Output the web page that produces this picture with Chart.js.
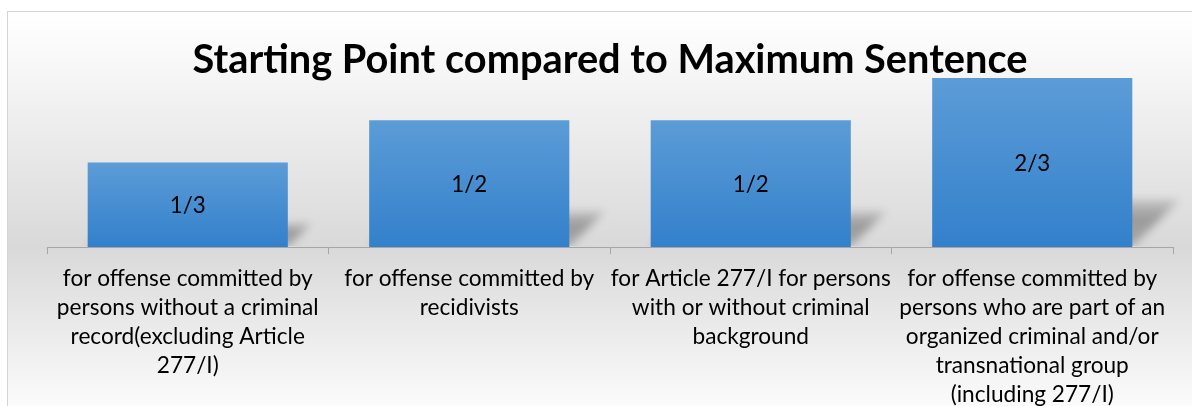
<!DOCTYPE html>
<html><head><meta charset="utf-8">
<script src="https://cdn.jsdelivr.net/npm/chart.js@4"></script>
<style>html,body{margin:0;padding:0;background:#fff;overflow:hidden}#wrap{width:1192px;height:406px;position:relative}</style>
</head><body><div id="wrap"><canvas id="c" width="1192" height="406"></canvas></div>
<script>
const chartTitle = "Starting Point compared to Maximum Sentence";
const categories = [
  ["for offense committed by", "persons without a criminal", "record(excluding Article", "277/I)"],
  ["for offense committed by", "recidivists"],
  ["for Article 277/I for persons", "with or without criminal", "background"],
  ["for offense committed by", "persons who are part of an", "organized criminal and/or", "transnational group", "(including 277/I)"]
];
const startingPointValues = [0.3333, 0.5, 0.5, 0.6667];
const valueLabels = ["1/3", "1/2", "1/2", "2/3"];

function fitSize(text, family, weight, target) {
  const c = document.createElement('canvas').getContext('2d');
  c.font = weight + ' 100px ' + family;
  return 100 * target / c.measureText(text).width;
}
const FAMILY = 'Lato';
const titleSize = fitSize(chartTitle, FAMILY, 'bold', 835);
const tickSize = fitSize("for offense committed by", FAMILY, 'normal', 250);
const valueSize = fitSize("1/3", FAMILY, 'normal', 36);

function barGradient(context) {
  const chart = context.chart;
  const ys = chart.scales && chart.scales.y;
  if (!chart.chartArea || !ys) return '#4a8fd2';
  const v = context.raw;
  const top = ys.getPixelForValue(v);
  const base = ys.getPixelForValue(0);
  const g = chart.ctx.createLinearGradient(0, top, 0, base);
  g.addColorStop(0, '#5c9cd7');
  g.addColorStop(1, '#3380cb');
  return g;
}

const bgPlugin = {
  id: 'bg',
  beforeDraw(chart) {
    const ctx = chart.ctx;
    ctx.save();
    ctx.fillStyle = '#ffffff';
    ctx.fillRect(0, 0, chart.width, chart.height);
    const g = ctx.createLinearGradient(0, 11, 0, 406);
    g.addColorStop(0, '#ffffff');
    g.addColorStop(0.08, '#fbfbfb');
    g.addColorStop(0.597, '#d9d9d9');
    g.addColorStop(1, '#fbfbfb');
    ctx.fillStyle = g;
    ctx.fillRect(7, 11, chart.width, chart.height);
    ctx.strokeStyle = '#d4d4d4';
    ctx.lineWidth = 1;
    ctx.strokeRect(7.5, 11.5, chart.width + 10, chart.height + 10);
    ctx.restore();
  }
};

const shadowPlugin = {
  id: 'barShadow',
  beforeDatasetsDraw(chart) {
    const ctx = chart.ctx;
    const meta = chart.getDatasetMeta(0);
    ctx.save();
    ctx.beginPath();
    ctx.rect(chart.chartArea.left, chart.chartArea.top - 20, chart.chartArea.width + 30, chart.chartArea.bottom - chart.chartArea.top + 19);
    ctx.clip();
    ctx.filter = 'blur(4px)';
    meta.data.forEach(el => {
      const p = el.getProps(['x', 'y', 'base', 'width'], true);
      const left = p.x - p.width / 2, right = p.x + p.width / 2;
      const h = p.base - p.y;
      const k = 0.28 * h;
      const g = ctx.createLinearGradient(0, p.base, 0, p.base - k);
      g.addColorStop(0, 'rgba(0,0,0,0.22)');
      g.addColorStop(0.6, 'rgba(0,0,0,0.30)');
      g.addColorStop(1, 'rgba(0,0,0,0.12)');
      ctx.fillStyle = g;
      ctx.beginPath();
      ctx.moveTo(left, p.base);
      ctx.lineTo(right, p.base);
      ctx.lineTo(right + k, p.base - k);
      ctx.lineTo(left + k, p.base - k);
      ctx.closePath();
      ctx.fill();
    });
    ctx.restore();
  }
};

const valueLabelPlugin = {
  id: 'valueLabels',
  afterDatasetsDraw(chart) {
    const ctx = chart.ctx;
    const meta = chart.getDatasetMeta(0);
    ctx.save();
    ctx.fillStyle = '#000000';
    ctx.font = 'normal ' + valueSize + 'px ' + FAMILY;
    ctx.textAlign = 'center';
    ctx.textBaseline = 'middle';
    meta.data.forEach((el, i) => {
      const p = el.getProps(['x', 'y', 'base'], true);
      ctx.fillText(valueLabels[i], p.x, (p.y + p.base) / 2 + 1.5);
    });
    ctx.restore();
  }
};

new Chart(document.getElementById('c'), {
  type: 'bar',
  data: {
    labels: categories,
    datasets: [{
      data: startingPointValues,
      backgroundColor: barGradient,
      borderWidth: 0,
      categoryPercentage: 1,
      barPercentage: 0.711
    }]
  },
  options: {
    responsive: false,
    animation: false,
    layout: { padding: { left: 47, right: 19, top: 51.5, bottom: 0 } },
    plugins: {
      legend: { display: false },
      tooltip: { enabled: false },
      title: {
        display: true,
        text: chartTitle,
        color: '#000000',
        padding: 0,
        font: { family: FAMILY, weight: 'bold', size: titleSize, lineHeight: '18px' }
      }
    },
    scales: {
      x: {
        offset: true,
        grid: { offset: true, drawOnChartArea: false, drawTicks: true, tickLength: 7, color: '#a6a6a6', tickColor: '#a6a6a6' },
        border: { display: true, color: '#a6a6a6', width: 1 },
        ticks: {
          color: '#000000',
          padding: 10.5,
          maxRotation: 0,
          autoSkip: false,
          font: { family: FAMILY, size: tickSize, lineHeight: '29px' }
        },
        afterFit(scale) { scale.height = 159; }
      },
      y: { display: false, min: 0, max: 0.7 }
    }
  },
  plugins: [bgPlugin, shadowPlugin, valueLabelPlugin]
});
</script>
</body></html>
